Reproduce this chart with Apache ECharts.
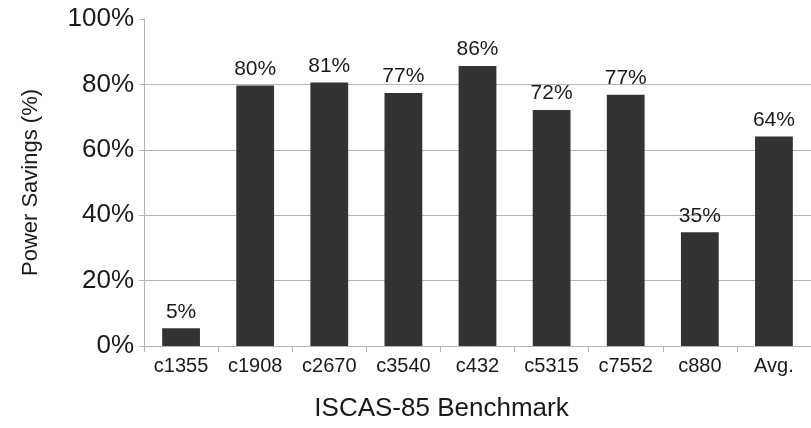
<!DOCTYPE html>
<html lang="en">
  <head>
    <meta charset="UTF-8">
    <title>Power Savings</title>
    <script src="https://cdn.jsdelivr.net/npm/echarts@6/dist/echarts.min.js"></script>
    <style>
      html, body { margin: 0; padding: 0; background: #fff; }
      #chart { width: 811px; height: 428px; }
    </style>
  </head>
  <body>
    <div id="chart"></div>
    <script>
      // benchmarks and savings (%)
      const categories = ['c1355', 'c1908', 'c2670', 'c3540', 'c432', 'c5315', 'c7552', 'c880', 'Avg.']
      const savings = [5.4, 79.7, 80.6, 77.4, 85.6, 72.2, 76.8, 34.8, 64.1]
      const yTicks = [0, 20, 40, 60, 80, 100]

      const font = 'Liberation Sans, Arial, sans-serif'
      const axisGray = '#b3b3b3'

      const chart = echarts.init(document.getElementById('chart'))
      chart.setOption({
        animation: false,
        grid: { left: 144, right: -9, top: 19, bottom: 82, containLabel: false },
        xAxis: {
          type: 'category',
          data: categories,
          name: 'ISCAS-85 Benchmark',
          nameLocation: 'middle',
          nameGap: 50,
          // title sits left of the plot centre in the original
          nameTextStyle: { fontFamily: font, fontSize: 26, color: '#1a1a1a', padding: [0, 72, 0, 0] },
          axisLine: { lineStyle: { color: axisGray, width: 1 } },
          axisTick: { show: true, length: 6, lineStyle: { color: axisGray } },
          axisLabel: { fontFamily: font, fontSize: 20, color: '#1a1a1a', margin: 10, interval: 0 }
        },
        yAxis: {
          type: 'value',
          min: yTicks[0],
          max: yTicks[yTicks.length - 1],
          interval: 20,
          name: 'Power Savings (%)',
          nameLocation: 'middle',
          nameGap: 102,
          nameTextStyle: { fontFamily: font, fontSize: 22, color: '#1a1a1a' },
          axisLine: { show: true, lineStyle: { color: axisGray, width: 1 } },
          axisTick: { show: true, length: 5, lineStyle: { color: axisGray } },
          axisLabel: { fontFamily: font, fontSize: 26, color: '#1a1a1a', margin: 10, formatter: v => v + '%' },
          splitLine: { show: true, showMaxLine: false, lineStyle: { color: axisGray, width: 1 } }
        },
        series: [{
          type: 'bar',
          data: savings,
          barWidth: '51%',
          itemStyle: { color: '#333333' },
          label: {
            show: true,
            position: 'top',
            distance: 6,
            fontFamily: font,
            fontSize: 21,
            color: '#1a1a1a',
            formatter: p => Math.round(p.value) + '%'
          }
        }]
      })
    </script>
  </body>
</html>
